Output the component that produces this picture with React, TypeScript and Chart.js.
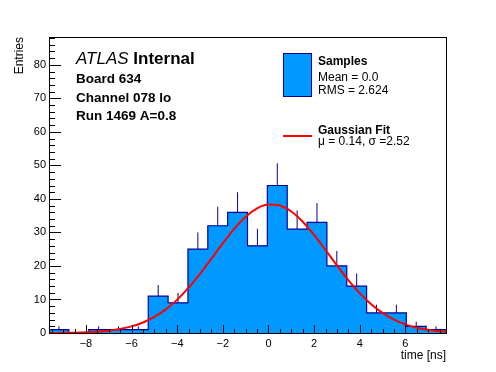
import React, { useEffect, useRef } from "react";
import { Chart, registerables } from "chart.js";

Chart.register(...registerables);

// ---- data ----
const xMin = -9.62;
const xMax = 7.78;
const yMin = 0;
const yMax = 88.3;

const binEdges = [
  -9.62, -8.75, -7.88, -7.01, -6.14, -5.27, -4.4, -3.53, -2.66, -1.79, -0.92,
  -0.05, 0.82, 1.69, 2.56, 3.43, 4.3, 5.17, 6.04, 6.91, 7.78,
];
const counts = [1, 0, 1, 1, 1, 11, 9, 25, 32, 36, 26, 44, 31, 33, 20, 14, 6, 6, 2, 1];
const countErrors = [1, 0, 1, 1, 1, 3.32, 3, 5, 5.66, 6, 5.1, 6.63, 5.57, 5.74, 4.47, 3.74, 2.45, 2.45, 1.41, 1];

const fitX = [
  -9.62, -9, -8.5, -8, -7.5, -7, -6.5, -6, -5.5, -5, -4.5, -4, -3.5, -3, -2.5, -2,
  -1.5, -1, -0.5, 0, 0.5, 1, 1.5, 2, 2.5, 3, 3.5, 4, 4.5, 5, 5.5, 6, 6.5, 7, 7.5, 7.78,
];
const fitY = [
  0.02, 0.05, 0.11, 0.21, 0.39, 0.69, 1.19, 1.97, 3.14, 4.8, 7.05, 9.96, 13.53,
  17.67, 22.18, 26.78, 31.07, 34.66, 37.18, 38.34, 38.01, 36.23, 33.2, 29.24,
  24.76, 20.17, 15.79, 11.88, 8.59, 5.98, 4.0, 2.57, 1.59, 0.94, 0.54, 0.39,
];

const xTickValues = [-8, -6, -4, -2, 0, 2, 4, 6];
const xTickLabels = ["\u22128", "\u22126", "\u22124", "\u22122", "0", "2", "4", "6"];
const yTickValues = [0, 10, 20, 30, 40, 50, 60, 70, 80];
const yTickLabels = ["0", "10", "20", "30", "40", "50", "60", "70", "80"];

const FONT = '"Liberation Sans", Arial, Helvetica, sans-serif';
const FILL = "#0099ff";
const EDGE = "#000099";

const rootDecor = {
  id: "rootDecor",
  afterDatasetsDraw(chart: any) {
    const { ctx, chartArea } = chart;
    const { left, right, top, bottom } = chartArea;
    const x = chart.scales.x;
    const y = chart.scales.y;
    ctx.save();
    ctx.strokeStyle = "#000";
    ctx.lineWidth = 1;
    ctx.beginPath();
    for (let v = 0; v <= yMax; v += 2) {
      const py = Math.round(y.getPixelForValue(v)) + 0.5;
      const len = v % 10 === 0 ? 12 : 6;
      ctx.moveTo(left, py);
      ctx.lineTo(left + len, py);
    }
    for (let v = -9.5; v <= xMax; v += 0.5) {
      const px = Math.round(x.getPixelForValue(v)) + 0.5;
      const len = v % 2 === 0 ? 8 : 4;
      ctx.moveTo(px, bottom);
      ctx.lineTo(px, bottom - len);
    }
    ctx.stroke();
    const l = Math.round(left) + 0.5;
    const t = Math.round(top) + 0.5;
    const r = Math.round(right) + 0.5;
    const b = Math.round(bottom) + 0.5;
    ctx.strokeRect(l, t, r - l, b - t);
    ctx.restore();
  },
  afterDraw(chart: any) {
    const { ctx, chartArea } = chart;
    ctx.save();
    ctx.fillStyle = "#000";
    ctx.textBaseline = "alphabetic";
    ctx.textAlign = "left";
    // ATLAS Internal
    ctx.font = `italic 17px ${FONT}`;
    ctx.fillText("ATLAS", 76, 64);
    const w = ctx.measureText("ATLAS ").width;
    ctx.font = `bold 17px ${FONT}`;
    ctx.fillText("Internal", 76 + w, 64);
    ctx.font = `bold 13.5px ${FONT}`;
    ctx.fillText("Board 634", 76, 83);
    ctx.fillText("Channel 078 lo", 76, 101.5);
    ctx.fillText("Run 1469 A=0.8", 76, 120);

    // legend
    ctx.fillStyle = FILL;
    ctx.fillRect(283.5, 53.5, 28, 43);
    ctx.strokeStyle = EDGE;
    ctx.lineWidth = 1;
    ctx.strokeRect(283.5, 53.5, 28, 43);
    ctx.strokeStyle = "#ff0000";
    ctx.lineWidth = 2;
    ctx.beginPath();
    ctx.moveTo(283, 136);
    ctx.lineTo(312, 136);
    ctx.stroke();
    ctx.fillStyle = "#000";
    ctx.font = `bold 12px ${FONT}`;
    ctx.fillText("Samples", 318, 65);
    ctx.fillText("Gaussian Fit", 318, 133.5);
    ctx.font = `12px ${FONT}`;
    ctx.fillText("Mean = 0.0", 318, 80.5);
    ctx.fillText("RMS = 2.624", 318, 94);
    ctx.fillText("\u03bc = 0.14, \u03c3 =2.52", 318, 144.5);

    // axis titles
    ctx.font = `12px ${FONT}`;
    ctx.textAlign = "right";
    ctx.fillText("time [ns]", chartArea.right, 359);
    ctx.save();
    ctx.translate(23, chartArea.top);
    ctx.rotate(-Math.PI / 2);
    ctx.textAlign = "right";
    ctx.fillText("Entries", 0, 0);
    ctx.restore();
    ctx.restore();
  },
};

export default function App() {
  const ref = useRef<HTMLCanvasElement | null>(null);
  useEffect(() => {
    if (!ref.current) return;
    const histPts = binEdges.map((e, i) => ({ x: e, y: counts[Math.min(i, counts.length - 1)] }));
    const errPts: any[] = [];
    counts.forEach((c, i) => {
      if (c <= 0) return;
      const cx = (binEdges[i] + binEdges[i + 1]) / 2;
      errPts.push({ x: cx, y: c }, { x: cx, y: c + countErrors[i] }, { x: cx, y: null });
    });
    const fitPts = fitX.map((x, i) => ({ x, y: fitY[i] }));
    const chart = new Chart(ref.current, {
      type: "line",
      data: {
        datasets: [
          {
            data: fitPts,
            borderColor: "#ff0000",
            borderWidth: 2,
            pointRadius: 0,
            fill: false,
            cubicInterpolationMode: "monotone",
            order: 1,
          } as any,
          {
            data: errPts,
            borderColor: EDGE,
            borderWidth: 1,
            pointRadius: 0,
            fill: false,
            spanGaps: false,
            order: 2,
          } as any,
          {
            data: histPts,
            stepped: "before",
            borderColor: EDGE,
            backgroundColor: FILL,
            borderWidth: 1.2,
            pointRadius: 0,
            fill: "origin",
            order: 3,
          } as any,
        ],
      },
      options: {
        responsive: false,
        animation: false,
        events: [],
        layout: { padding: { top: 37, right: 50, left: 0, bottom: 0 } },
        plugins: { legend: { display: false }, tooltip: { enabled: false }, title: { display: false } },
        scales: {
          x: {
            type: "linear",
            min: xMin,
            max: xMax,
            afterBuildTicks: (s: any) => {
              s.ticks = xTickValues.map((value) => ({ value }));
            },
            afterFit: (s: any) => {
              s.height = 39;
              s.paddingLeft = 0;
              s.paddingRight = 0;
            },
            grid: { display: false, drawTicks: false, tickLength: 0 },
            border: { display: false },
            ticks: {
              autoSkip: false,
              maxRotation: 0,
              padding: 4,
              color: "#000",
              font: { family: FONT, size: 11 },
              callback: (_v: any, i: number) => xTickLabels[i],
            },
          },
          y: {
            type: "linear",
            min: yMin,
            max: yMax,
            afterBuildTicks: (s: any) => {
              s.ticks = yTickValues.map((value) => ({ value }));
            },
            afterFit: (s: any) => {
              s.width = 49;
            },
            grid: { display: false, drawTicks: false, tickLength: 0 },
            border: { display: false },
            ticks: {
              autoSkip: false,
              padding: 3,
              color: "#000",
              font: { family: FONT, size: 11 },
              callback: (_v: any, i: number) => yTickLabels[i],
            },
          },
        },
      } as any,
      plugins: [rootDecor],
    });
    return () => chart.destroy();
  }, []);
  return (
    <div style={{ position: "absolute", left: 0, top: 0, width: 496, height: 372, background: "#fff" }}>
      <canvas ref={ref} width={496} height={372} style={{ width: 496, height: 372, display: "block" }} />
    </div>
  );
}
